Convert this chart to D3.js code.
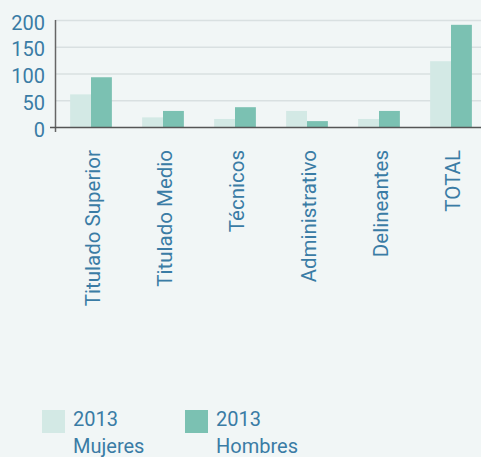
<!DOCTYPE html>
<html>
<head>
<meta charset="utf-8">
<script src="https://cdn.jsdelivr.net/npm/d3@7"></script>
<style>
  body { margin: 0; background: #f1f6f6; }
  svg text { font-family: Roboto, sans-serif; fill: #3a7ca5; }
</style>
</head>
<body>
<svg id="chart"></svg>
<script>
// data
var categories = ['Titulado Superior', 'Titulado Medio', 'Técnicos', 'Administrativo', 'Delineantes', 'TOTAL'];
var mujeres = [61, 18, 15, 30, 15, 123];
var hombres = [93, 30, 37, 11, 30, 191];
var yTicks = [0, 50, 100, 150, 200];
var seriesNames = ['2013 Mujeres', '2013 Hombres'];
var colors = ['#d3e9e5', '#7bc1b2'];

var W = 481, H = 457;
var svg = d3.select('#chart').attr('width', W).attr('height', H);

var x = d3.scaleBand().domain(categories).range([55, 487]).paddingInner(0.42).paddingOuter(0.21);
var xs = d3.scaleBand().domain([0, 1]).range([0, x.bandwidth()]);
var y = d3.scaleLinear().domain([0, 200]).range([127, 20]);

// grid
svg.append('g').selectAll('line').data(yTicks.slice(1)).join('line')
  .attr('x1', 55).attr('x2', W)
  .attr('y1', d => y(d) + 0.5).attr('y2', d => y(d) + 0.5)
  .attr('stroke', '#d9e0e1').attr('stroke-width', 1.5);

// bars
var series = [mujeres, hombres];
series.forEach(function(vals, s) {
  svg.append('g').selectAll('rect').data(vals).join('rect')
    .attr('x', (d, i) => x(categories[i]) + xs(s))
    .attr('width', xs.bandwidth())
    .attr('y', d => y(d))
    .attr('height', d => y(0) - y(d))
    .attr('fill', colors[s]);
});

// y axis
var yAxis = svg.append('g').attr('transform', 'translate(55,0)')
  .call(d3.axisLeft(y).tickValues(yTicks).tickSize(0).tickPadding(10));
yAxis.select('.domain').remove();
yAxis.selectAll('text').style('font-size', '20px').attr('dy', '0.45em');
svg.append('line').attr('x1', 55.5).attr('x2', 55.5).attr('y1', 20).attr('y2', 132)
  .attr('stroke', '#666').attr('stroke-width', 1.5);
svg.append('line').attr('x1', 50).attr('x2', W).attr('y1', 127.5).attr('y2', 127.5)
  .attr('stroke', '#555').attr('stroke-width', 1.5);

// category labels
var xAxis = svg.append('g').attr('transform', 'translate(0,127)')
  .call(d3.axisBottom(x).tickSize(0));
xAxis.select('.domain').remove();
xAxis.selectAll('text')
  .style('font-size', '20.5px')
  .attr('text-anchor', 'end')
  .attr('transform', 'rotate(-90)')
  .attr('x', -23).attr('y', 0).attr('dy', '0.45em');

// legend
var legend = svg.append('g').selectAll('g').data(seriesNames).join('g')
  .attr('transform', (d, i) => 'translate(' + (42 + i * 143) + ',410)');
legend.append('rect').attr('width', 23).attr('height', 23).attr('fill', (d, i) => colors[i]);
legend.append('text').attr('x', 31).attr('y', 16).style('font-size', '20px').text(d => d.split(' ')[0]);
legend.append('text').attr('x', 31).attr('y', 43).style('font-size', '20px').text(d => d.split(' ')[1]);
</script>
</body>
</html>
